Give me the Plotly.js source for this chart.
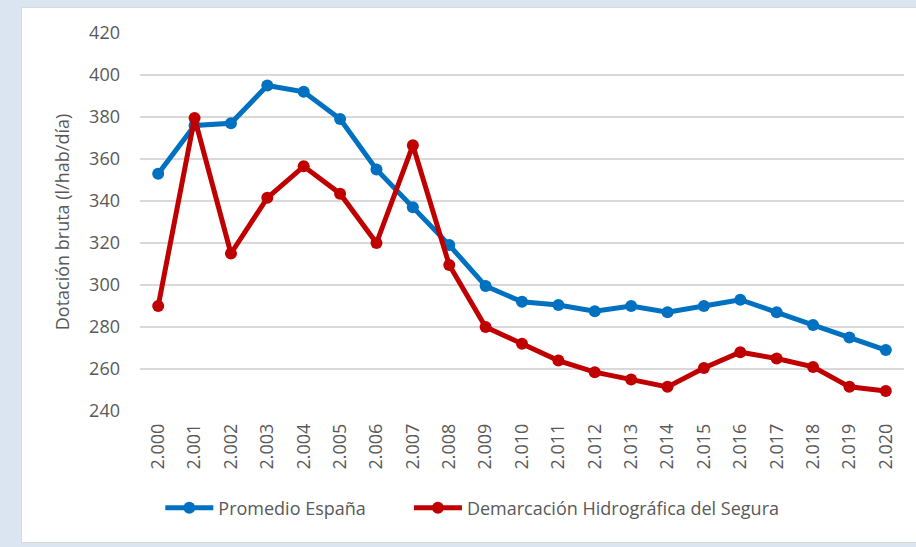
<!DOCTYPE html>
<html>
<head>
<meta charset="utf-8">
<script src="https://cdn.plot.ly/plotly-3.0.1.min.js"></script>
<style>
  html, body { margin: 0; padding: 0; width: 916px; height: 547px; overflow: hidden; background: #dbe5f1; }
  #frame { position: absolute; left: 21px; top: 7px; width: 905px; height: 536px; background: #ffffff; border: 1px solid #d9d9d9; box-sizing: border-box; }
  #chart { position: absolute; left: 0; top: 0; width: 898px; height: 534px; }
</style>
</head>
<body>
<div id="frame"><div id="chart"></div></div>
<script>
const years = ["2.000","2.001","2.002","2.003","2.004","2.005","2.006","2.007","2.008","2.009","2.010",
               "2.011","2.012","2.013","2.014","2.015","2.016","2.017","2.018","2.019","2.020"];
const espana = [353, 376, 377, 395, 392, 379, 355, 337, 319, 299.5, 292, 290.5, 287.5, 290, 287, 290, 293, 287, 281, 275, 269];
const segura = [290, 379.5, 315, 341.5, 356.5, 343.5, 320, 366.5, 309.5, 280, 272, 264, 258.5, 255, 251.5, 260.5, 268, 265, 261, 251.5, 249.5];
const yTicks = [240, 260, 280, 300, 320, 340, 360, 380, 400, 420];

const textColor = "#595959";
const fontFam = "'Open Sans', 'Liberation Sans', sans-serif";

const traces = [
  { x: years, y: espana, name: "Promedio España", type: "scatter", mode: "lines+markers", legend: "legend",
    line: { color: "#0070c0", width: 5 }, marker: { color: "#0070c0", size: 12 } },
  { x: years, y: segura, name: "Demarcación Hidrográfica del Segura", type: "scatter", mode: "lines+markers", legend: "legend2",
    line: { color: "#c00000", width: 5 }, marker: { color: "#c00000", size: 12 } }
];

const legendBase = { orientation: "h", xanchor: "left", y: -0.257, yanchor: "middle",
                     font: { size: 18, color: textColor }, itemwidth: 48 };

const layout = {
  width: 898, height: 534,
  margin: { l: 118, r: 16, t: 25, b: 131 },
  paper_bgcolor: "#ffffff", plot_bgcolor: "#ffffff",
  font: { family: fontFam, color: textColor, size: 18 },
  showlegend: true,
  legend: Object.assign({}, legendBase, { x: 0.0266 }),
  legend2: Object.assign({}, legendBase, { x: 0.352 }),
  xaxis: { type: "category", range: [-0.5, 20.5], tickangle: -90, showgrid: false, zeroline: false,
           showline: false, ticks: "", ticklabelstandoff: 8, tickfont: { size: 18, color: textColor }, fixedrange: true },
  yaxis: { range: [240, 420], tickvals: yTicks, showgrid: true, gridcolor: "#d9d9d9", gridwidth: 1.5,
           zeroline: false, showline: false, ticks: "", ticklabelstandoff: 19,
           tickfont: { size: 18, color: textColor },
           title: { text: "Dotación bruta (l/hab/día)", font: { size: 18, color: textColor }, standoff: 14 } }
};

Plotly.newPlot("chart", traces, layout, { displayModeBar: false, staticPlot: true });
</script>
</body>
</html>
